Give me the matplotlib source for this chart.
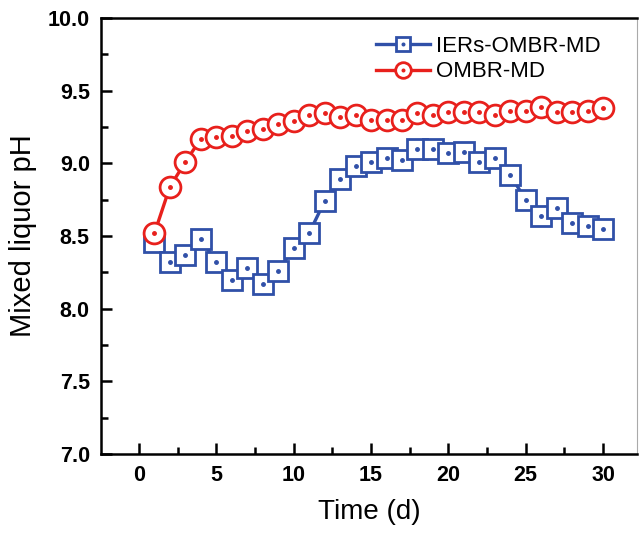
import numpy as np
import matplotlib.pyplot as plt

plt.rcParams['font.family'] = ['Liberation Sans', 'DejaVu Sans']

# days and pH values
days = np.arange(1, 31)
iers_ph = [8.46, 8.32, 8.37, 8.48, 8.32, 8.20, 8.28, 8.17, 8.26, 8.42,
           8.52, 8.74, 8.89, 8.98, 9.01, 9.04, 9.02, 9.10, 9.10, 9.07,
           9.08, 9.01, 9.04, 8.92, 8.75, 8.64, 8.69, 8.59, 8.57, 8.55]
ombr_ph = [8.52, 8.84, 9.01, 9.17, 9.18, 9.19, 9.22, 9.24, 9.27, 9.29,
           9.33, 9.35, 9.32, 9.33, 9.30, 9.30, 9.30, 9.35, 9.33, 9.355,
           9.355, 9.355, 9.33, 9.36, 9.36, 9.39, 9.355, 9.355, 9.36, 9.38]
labels = ['IERs-OMBR-MD', 'OMBR-MD']

blue = '#3050a8'
red = '#e8201c'

fig = plt.figure(figsize=(6.39, 5.34), dpi=100)
ax = fig.add_axes([0.158, 0.150, 0.839, 0.816])

l1, = ax.plot(days, iers_ph, color=blue, lw=2.4, marker='s', ms=14,
              mfc='white', mec=blue, mew=2.0)
d1, = ax.plot(days, iers_ph, ls='none', marker='o', ms=2.5, color=blue)
l2, = ax.plot(days, ombr_ph, color=red, lw=2.4, marker='o', ms=15,
              mfc='white', mec=red, mew=2.0)
d2, = ax.plot(days, ombr_ph, ls='none', marker='o', ms=2.5, color=red)

ax.set_xlim(-2.46, 32.2)
ax.set_ylim(7.0, 10.0)
ax.set_xticks([0, 5, 10, 15, 20, 25, 30])
ax.set_xticks(np.arange(2.5, 30, 5), minor=True)
ax.set_yticks(np.arange(7.0, 10.01, 0.5))
ax.set_yticks(np.arange(7.25, 10, 0.5), minor=True)
ax.yaxis.set_major_formatter(plt.FormatStrFormatter('%.1f'))

ax.tick_params(which='major', direction='in', length=8, width=1.8,
               labelsize=15.5, pad=8)
ax.tick_params(which='minor', direction='in', length=5, width=1.8)
for lab in ax.get_xticklabels() + ax.get_yticklabels():
    lab.set_fontweight('bold')
for sp in ['left', 'bottom', 'top']:
    ax.spines[sp].set_linewidth(1.8)
ax.spines['right'].set_linewidth(0.8)
ax.spines['right'].set_color('#aaaaaa')

ax.set_xlabel('Time (d)', fontsize=20, labelpad=9)
ax.set_ylabel('Mixed liquor pH', fontsize=21, labelpad=8)

ax.legend([(l1, d1), (l2, d2)], labels, loc='upper right',
          bbox_to_anchor=(0.97, 1.005), frameon=False, fontsize=16,
          handlelength=2.4, handletextpad=0.3, labelspacing=0.2,
          markerscale=0.75)

fig.savefig('out.png', dpi=100)
